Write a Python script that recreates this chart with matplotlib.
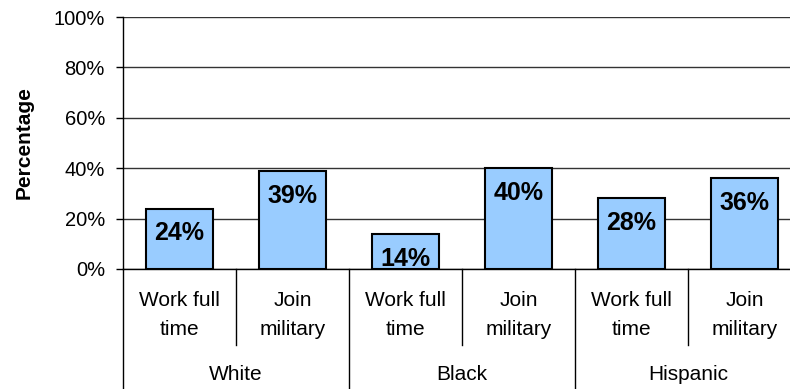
import matplotlib.pyplot as plt
from matplotlib.transforms import blended_transform_factory

plt.rcParams['font.family'] = ['Liberation Sans', 'DejaVu Sans']

groups = ['White', 'Black', 'Hispanic']
outcomes = ['Work full\ntime', 'Join\nmilitary']
values = [24, 39, 14, 40, 28, 36]
yticks = [0, 20, 40, 60, 80, 100]

fig = plt.figure(figsize=(7.9, 3.89), dpi=100)
ax = fig.add_axes([123 / 790, 120 / 389, 678 / 790, 252 / 389])

x = list(range(len(values)))
ax.bar(x, values, width=0.6, color='#99CCFF', edgecolor='black', linewidth=1.5, zorder=3)
for xi, v in zip(x, values):
    ax.annotate(f'{v}%', (xi, v), xytext=(0, -23), textcoords='offset points',
                ha='center', va='baseline', fontsize=18, fontweight='bold', zorder=4)

ax.set_xlim(-0.5, 5.5)
ax.set_ylim(0, 100)
ax.set_yticks(yticks)
ax.set_yticklabels([f'{t}%' for t in yticks], fontsize=14.5)
ax.tick_params(axis='y', length=5, width=1, pad=8)
ax.set_xticks([])
ax.yaxis.grid(True, color='#333333', linewidth=1)
ax.set_axisbelow(True)
for s in ['top', 'right']:
    ax.spines[s].set_visible(False)
ax.spines['left'].set_linewidth(1)
ax.spines['bottom'].set_linewidth(1)

ax.set_ylabel('Percentage', fontsize=15, fontweight='bold')
ax.yaxis.set_label_coords(-0.132, 0.5)

tr = blended_transform_factory(ax.transData, ax.transAxes)
for i in range(len(values)):
    ax.text(i, -0.183, outcomes[i % 2], transform=tr, ha='center', va='center',
            fontsize=15, linespacing=1.7)
for g, name in enumerate(groups):
    ax.text(2 * g + 0.5, -0.42, name, transform=tr, ha='center', va='center',
            fontsize=15)

# separators below the axis
for xs in [0.5, 2.5, 4.5]:
    ax.plot([xs, xs], [0, -0.30], transform=tr, color='black', lw=1, clip_on=False)
for xs in [-0.5, 1.5, 3.5]:
    ax.plot([xs, xs], [0, -0.48], transform=tr, color='black', lw=1, clip_on=False)

fig.savefig('out.png', dpi=100)
